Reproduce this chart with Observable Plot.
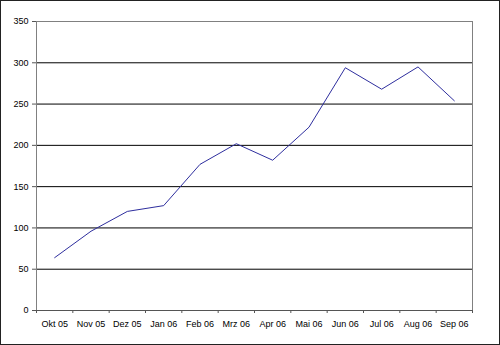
<!DOCTYPE html>
<html>
<head>
<meta charset="utf-8">
<script src="https://cdn.jsdelivr.net/npm/d3@7"></script>
<script src="https://cdn.jsdelivr.net/npm/@observablehq/plot@0.6"></script>
<style>
  html, body { margin: 0; padding: 0; background: #fff; }
  #wrap { position: relative; width: 500px; height: 345px; }
  #border { position: absolute; left: 0; top: 0; width: 498px; height: 343px; border: 1px solid #222; pointer-events: none; }
</style>
</head>
<body>
<div id="wrap"><div id="border"></div></div>
<script>
const months = ["Okt 05", "Nov 05", "Dez 05", "Jan 06", "Feb 06", "Mrz 06", "Apr 06", "Mai 06", "Jun 06", "Jul 06", "Aug 06", "Sep 06"];
const values = [64, 96, 120, 127, 177, 202, 182, 222, 294, 268, 295, 254];
const yTicks = [0, 50, 100, 150, 200, 250, 300, 350];

const data = months.map((m, i) => ({month: m, pos: i + 0.5, value: values[i]}));
const boundaries = months.map((_, i) => i).concat([months.length]);
const gridLines = yTicks.filter(v => v > 0 && v < 350);

const chart = Plot.plot({
  width: 500,
  height: 345,
  marginLeft: 36,
  marginRight: 28,
  marginTop: 21,
  marginBottom: 35,
  x: {domain: [0, months.length]},
  y: {domain: [0, 350]},
  style: {fontFamily: "'Liberation Sans', Arial, sans-serif", fontSize: "9px", color: "#000", background: "transparent"},
  marks: [
    Plot.ruleY(gridLines, {stroke: "#000", strokeWidth: 1}),
    Plot.frame({stroke: "#808080"}),
    Plot.ruleY([0], {stroke: "#555"}),
    Plot.ruleX([0], {stroke: "#808080"}),
    Plot.axisY({ticks: yTicks, tickSize: 4, tickPadding: 4, stroke: "#555", fill: "#000", label: null}),
    Plot.axisX({ticks: boundaries, tickSize: 3, tickFormat: () => "", stroke: "#555", label: null}),
    Plot.axisX({ticks: data.map(d => d.pos), tickSize: 0, tickPadding: 10, tickFormat: (v) => months[Math.floor(v)], fill: "#000", label: null}),
    Plot.line(data, {x: "pos", y: "value", stroke: "#2e2e9e", strokeWidth: 1})
  ]
});
document.getElementById("wrap").insertBefore(chart, document.getElementById("border"));
</script>
</body>
</html>
